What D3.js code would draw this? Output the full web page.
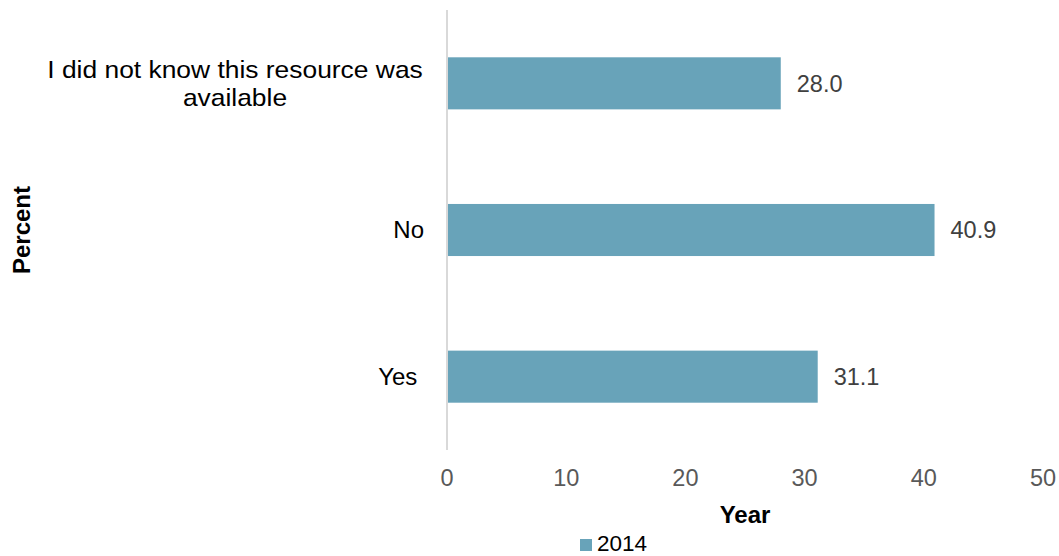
<!DOCTYPE html>
<html><head><meta charset="utf-8">
<script src="https://cdn.jsdelivr.net/npm/d3@7"></script>
<style>body{margin:0;background:#fff}svg{display:block;font-family:"Liberation Sans",Arial,sans-serif}</style>
</head><body><svg id="c" width="1059" height="556"></svg>
<script>
const categories = [["I did not know this resource was","available"],["No"],["Yes "]];
const values = [28.0, 40.9, 31.1];
const xTicks = [0,10,20,30,40,50];
const seriesName = "2014";

const svg = d3.select("#c");
const x = d3.scaleLinear().domain([0,50]).range([447,1043]);
const y = d3.scaleBand().domain(d3.range(categories.length)).range([10,450]).paddingInner(0.645).paddingOuter(0.3225);
const color = "#68a3b9";

svg.selectAll("rect.bar").data(values).join("rect").attr("class","bar")
  .attr("x", x(0)).attr("y",(d,i)=>y(i)).attr("width",d=>x(d)-x(0)).attr("height",y.bandwidth()).attr("fill",color);

svg.append("line").attr("x1",x(0)).attr("x2",x(0)).attr("y1",10).attr("y2",450).attr("stroke","#d9d9d9").attr("stroke-width",2);

svg.selectAll("text.val").data(values).join("text").attr("class","val")
  .attr("x",d=>x(d)+16).attr("y",(d,i)=>y(i)+y.bandwidth()/2).attr("dy","0.35em")
  .attr("font-size",23.5).attr("fill","#404040").text(d=>d.toFixed(1));

categories.forEach((lines,i)=>{
  const cy = y(i)+y.bandwidth()/2;
  const multi = lines.length>1;
  const sx = multi ? 1.1 : 1;
  const cx = multi ? 235 : 424;
  const t = svg.append("text").attr("font-size",24).attr("fill","#000").attr("text-anchor", multi?"middle":"end")
    .attr("transform", `translate(${cx},0) scale(${sx},1)`)
    .attr("xml:space","preserve");
  const lh = 28;
  lines.forEach((l,j)=>{
    t.append("tspan").attr("x", 0).attr("y", cy + (j-(lines.length-1)/2)*lh).attr("dy","0.35em").text(l);
  });
});

svg.selectAll("text.tick").data(xTicks).join("text").attr("class","tick")
  .attr("x",d=>x(d)).attr("y",478).attr("dy","0.35em").attr("text-anchor","middle")
  .attr("font-size",23.5).attr("fill","#595959").text(d=>d);

svg.append("text").attr("x",745).attr("y",515).attr("dy","0.35em").attr("text-anchor","middle")
  .attr("font-size",24).attr("font-weight","bold").text("Year");

svg.append("text").attr("transform","translate(22,230) rotate(-90)").attr("dy","0.35em").attr("text-anchor","middle")
  .attr("font-size",24).attr("font-weight","bold").text("Percent");

svg.append("rect").attr("x",580).attr("y",539).attr("width",12).attr("height",12).attr("fill",color);
svg.append("text").attr("x",597).attr("y",543.5).attr("dy","0.35em").attr("font-size",22.5).attr("fill","#000").text(seriesName);
</script></body></html>
